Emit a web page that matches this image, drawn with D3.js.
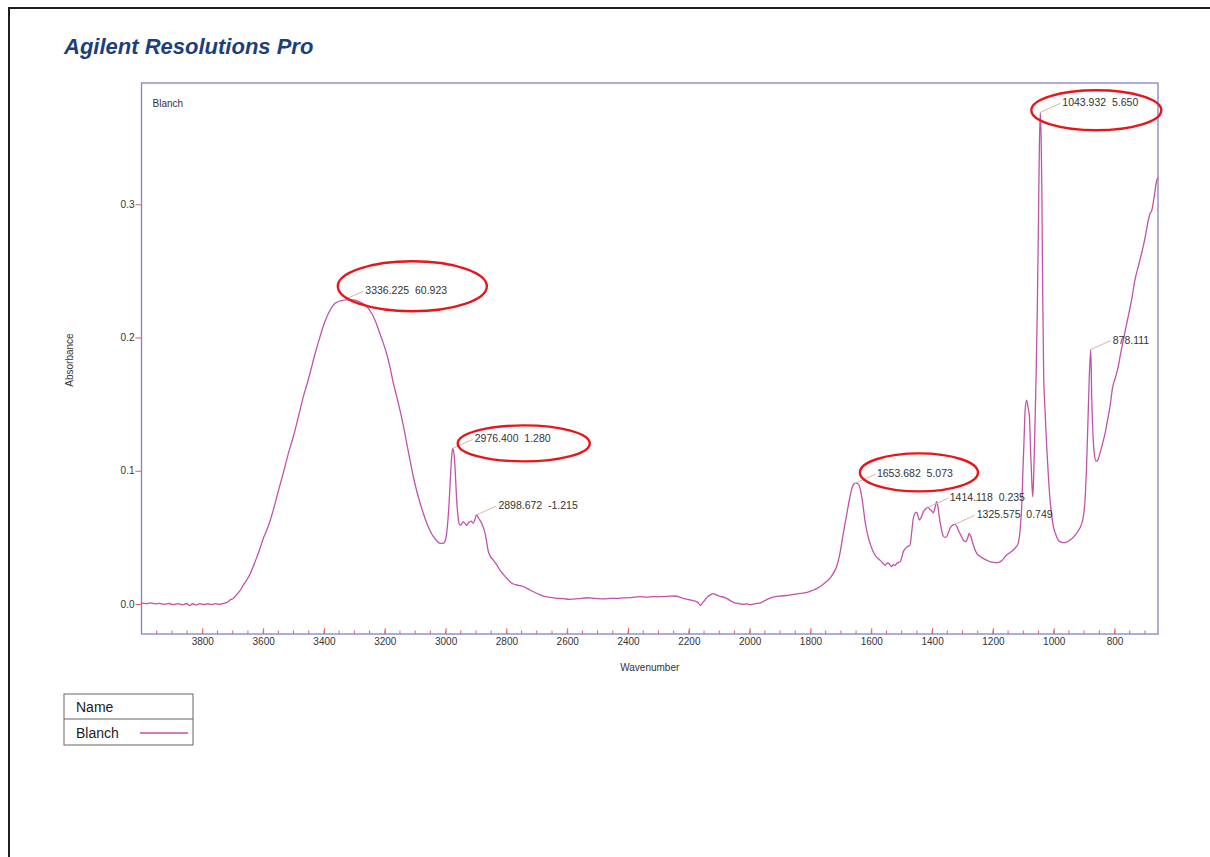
<!DOCTYPE html>
<html>
<head>
<meta charset="utf-8">
<script src="https://cdn.jsdelivr.net/npm/d3@7"></script>
<style>
  html, body { margin: 0; padding: 0; background: #ffffff; }
  svg { display: block; font-family: Arial, "Liberation Sans", sans-serif; }
  .peak-text { white-space: pre; }
</style>
</head>
<body>
<svg id="chart" width="1210" height="857"></svg>
<script>
// ---- Spectrum: wavenumber (cm-1, descending) and absorbance ----
const wavenumbers = [
  4000, 3985, 3970, 3955, 3940, 3925, 3910, 3895, 3880, 3865, 3852, 3842, 3832, 3820, 3808, 3795,
  3782, 3770, 3757, 3745, 3732, 3720, 3709, 3698, 3687, 3676, 3665, 3654, 3643, 3632, 3621, 3610,
  3599, 3588, 3577, 3566, 3555, 3545, 3534, 3517, 3501, 3484, 3468, 3457, 3446, 3429, 3413, 3397,
  3380, 3364, 3350, 3336.225, 3314, 3298, 3281, 3265, 3254, 3243, 3232, 3216, 3205, 3194, 3183, 3172,
  3161, 3150, 3139, 3128, 3117, 3106, 3095, 3084, 3073, 3062, 3051, 3040, 3029, 3018, 3008, 3002,
  2996, 2990, 2984, 2980, 2976.4, 2972, 2968, 2964, 2960, 2955, 2950, 2942, 2936, 2930, 2924, 2916,
  2909, 2904, 2898.672, 2890, 2881, 2870, 2859, 2851, 2843, 2832, 2821, 2810, 2799, 2788, 2777, 2760,
  2744, 2728, 2711, 2695, 2679, 2656, 2634, 2612, 2591, 2564, 2536, 2508, 2481, 2459, 2437, 2415,
  2394, 2377, 2360, 2340, 2320, 2300, 2288, 2268, 2247, 2230, 2216, 2198, 2180, 2170, 2162, 2156,
  2150, 2140, 2128, 2120, 2110, 2098, 2084, 2070, 2058, 2048, 2036, 2020, 2010, 2000, 1988, 1976,
  1964, 1950, 1935, 1916, 1900, 1880, 1856, 1832, 1808, 1790, 1769, 1752, 1736, 1725, 1714, 1703,
  1692, 1681, 1670, 1662, 1653.682, 1647, 1641, 1635, 1631, 1626, 1621, 1612, 1604, 1596, 1588, 1577,
  1566, 1560, 1555, 1549, 1544, 1538, 1533, 1527, 1522, 1516, 1510, 1505, 1500, 1495, 1488, 1482,
  1473, 1467, 1462, 1456, 1451, 1446, 1442, 1436, 1429, 1421, 1414.118, 1407, 1400, 1396, 1390, 1385,
  1380, 1376, 1370, 1365, 1358, 1352, 1346, 1341, 1334, 1325.575, 1318, 1314, 1305, 1297, 1289, 1283,
  1278, 1273, 1266, 1260, 1253, 1243, 1232, 1221, 1210, 1198, 1187, 1179, 1171, 1163, 1155, 1144,
  1133, 1125, 1117, 1112, 1108, 1104, 1102, 1098, 1094, 1089, 1084, 1080, 1076, 1072, 1069, 1066,
  1062, 1058, 1054, 1050, 1047, 1043.932, 1041, 1039, 1036, 1033, 1029, 1023, 1018, 1012, 1006, 1001,
  993, 985, 976, 968, 957, 946, 932, 919, 910, 903, 897, 892, 887, 883, 878.111, 875,
  870, 866, 861, 855, 848, 840, 831, 823, 815, 806, 797, 788, 780, 771, 760, 752,
  744, 733, 720, 706, 697, 689, 683, 678, 670, 661, 657
];
const absorbance = [
  0.0006, 0.0003, 0.0008, 0.0001, 0.0005, -0.0002, 0.0004, -0.0004, 0.0003, -0.0006, 0.0004, -0.0012, 0.0002, -0.0008, 0.0003, -0.0005,
  0.0002, -0.0004, 0.0003, -0.0002, 0.0004, 0.0010, 0.0030, 0.0042, 0.0070, 0.0100, 0.0143, 0.0180, 0.0225, 0.0285, 0.0350, 0.0418,
  0.0495, 0.0555, 0.0625, 0.0710, 0.0805, 0.0890, 0.0980, 0.1130, 0.1255, 0.1405, 0.1555, 0.1640, 0.1730, 0.1880, 0.2005, 0.2118,
  0.2205, 0.2255, 0.2272, 0.2280, 0.2285, 0.2280, 0.2265, 0.2245, 0.2218, 0.2180, 0.2130, 0.2030, 0.1960, 0.1880, 0.1780, 0.1660,
  0.1560, 0.1455, 0.1340, 0.1210, 0.1080, 0.0955, 0.0850, 0.0758, 0.0680, 0.0608, 0.0550, 0.0505, 0.0475, 0.0455, 0.0455, 0.0470,
  0.0540, 0.0700, 0.0950, 0.1105, 0.1168, 0.1120, 0.0990, 0.0800, 0.0680, 0.0600, 0.0592, 0.0617, 0.0605, 0.0590, 0.0612, 0.0622,
  0.0605, 0.0630, 0.0668, 0.0640, 0.0605, 0.0530, 0.0392, 0.0350, 0.0330, 0.0295, 0.0255, 0.0222, 0.0193, 0.0168, 0.0150, 0.0140,
  0.0130, 0.0112, 0.0092, 0.0075, 0.0060, 0.0050, 0.0043, 0.0040, 0.0035, 0.0040, 0.0047, 0.0042, 0.0038, 0.0042, 0.0043, 0.0046,
  0.0048, 0.0052, 0.0055, 0.0052, 0.0056, 0.0054, 0.0056, 0.0058, 0.0060, 0.0052, 0.0040, 0.0032, 0.0022, 0.0012, -0.0010, 0.0005,
  0.0022, 0.0050, 0.0070, 0.0078, 0.0068, 0.0058, 0.0050, 0.0035, 0.0018, 0.0009, 0.0004, -0.0002, 0.0002, -0.0005, -0.0001, 0.0004,
  0.0009, 0.0025, 0.0042, 0.0055, 0.0060, 0.0064, 0.0072, 0.0080, 0.0090, 0.0105, 0.0130, 0.0160, 0.0193, 0.0230, 0.0280, 0.0380,
  0.0530, 0.0670, 0.0805, 0.0880, 0.0905, 0.0905, 0.0895, 0.0850, 0.0800, 0.0720, 0.0630, 0.0520, 0.0455, 0.0405, 0.0368, 0.0340,
  0.0318, 0.0300, 0.0290, 0.0305, 0.0308, 0.0292, 0.0280, 0.0296, 0.0290, 0.0305, 0.0312, 0.0318, 0.0345, 0.0390, 0.0415, 0.0430,
  0.0440, 0.0540, 0.0640, 0.0680, 0.0690, 0.0660, 0.0630, 0.0650, 0.0690, 0.0715, 0.0725, 0.0710, 0.0695, 0.0685, 0.0725, 0.0768,
  0.0720, 0.0650, 0.0570, 0.0520, 0.0500, 0.0505, 0.0540, 0.0568, 0.0590, 0.0598, 0.0580, 0.0555, 0.0515, 0.0480, 0.0468, 0.0495,
  0.0530, 0.0510, 0.0455, 0.0415, 0.0380, 0.0358, 0.0343, 0.0330, 0.0318, 0.0312, 0.0310, 0.0315, 0.0325, 0.0345, 0.0368, 0.0385,
  0.0405, 0.0425, 0.0455, 0.0520, 0.0630, 0.0800, 0.0950, 0.1200, 0.1450, 0.1530, 0.1470, 0.1410, 0.1150, 0.0920, 0.0805, 0.0950,
  0.1300, 0.1700, 0.2200, 0.2900, 0.3450, 0.3690, 0.3450, 0.3100, 0.2300, 0.1720, 0.1480, 0.1180, 0.0980, 0.0780, 0.0660, 0.0580,
  0.0520, 0.0480, 0.0465, 0.0460, 0.0465, 0.0480, 0.0510, 0.0550, 0.0590, 0.0650, 0.0780, 0.1030, 0.1400, 0.1700, 0.1910, 0.1550,
  0.1230, 0.1120, 0.1070, 0.1080, 0.1130, 0.1200, 0.1280, 0.1380, 0.1480, 0.1630, 0.1700, 0.1780, 0.1880, 0.1980, 0.2105, 0.2190,
  0.2280, 0.2430, 0.2550, 0.2680, 0.2780, 0.2880, 0.2930, 0.2950, 0.3050, 0.3180, 0.3200
];

// ---- Peak annotations ----
const peakWavenumbers = [3336.225, 2976.400, 2898.672, 1653.682, 1414.118, 1325.575, 1043.932, 878.111];
const peakLabels = [
  "3336.225  60.923", "2976.400  1.280", "2898.672  -1.215", "1653.682  5.073",
  "1414.118  0.235", "1325.575  0.749", "1043.932  5.650", "878.111"
];
// peaks circled in red
const circledPeaks = [3336.225, 2976.400, 1653.682, 1043.932];

// ---- Axis ticks ----
const xTickValues = [3800, 3600, 3400, 3200, 3000, 2800, 2600, 2400, 2200, 2000, 1800, 1600, 1400, 1200, 1000, 800];
const yTickValues = [0.0, 0.1, 0.2, 0.3];
const seriesName = "Blanch";

// ---- Layout / style ----
const plot = { left: 141.5, right: 1158, top: 83, bottom: 634 };
const colors = {
  line: "#c152aa", frame: "#8282c6", tick: "#e06464", text: "#333333",
  leader: "#d8b6a6", ring: "#e8161a", title: "#1c3f7c"
};
// red ring placement relative to each circled peak's anchor point
const ringLayout = {
  3336.225: { dx: 69, dy: -14, rx: 74.5, ry: 25 },
  2976.4:   { dx: 71, dy: -5,  rx: 66,   ry: 18 },
  1653.682: { dx: 64, dy: -11, rx: 59,   ry: 19 },
  1043.932: { dx: 56, dy: -2,  rx: 65,   ry: 20 }
};

const svg = d3.select("#chart");
const spectrum = wavenumbers.map((w, i) => ({ w, a: absorbance[i] }));

const x = d3.scaleLinear().domain([4000, 657]).range([plot.left, plot.right]);
const y = d3.scaleLinear().domain([-0.0225, 0.391]).range([plot.bottom, plot.top]);

// page border
svg.append("rect")
  .attr("x", 9).attr("y", 8).attr("width", 1230).attr("height", 880)
  .attr("fill", "none").attr("stroke", "#1e1e1e").attr("stroke-width", 2);

// title
svg.append("text")
  .attr("x", 64).attr("y", 54)
  .attr("font-size", 22).attr("font-weight", "bold").attr("font-style", "italic")
  .attr("fill", colors.title)
  .text("Agilent Resolutions Pro");

// plot frame
svg.append("rect")
  .attr("x", plot.left).attr("y", plot.top)
  .attr("width", plot.right - plot.left).attr("height", plot.bottom - plot.top)
  .attr("fill", "none").attr("stroke", colors.frame).attr("stroke-width", 1.3);

// minor x ticks (every 50 cm-1), pointing into the plot
svg.append("g").selectAll("line")
  .data(d3.range(4000, 657, -50))
  .join("line")
  .attr("x1", d => x(d)).attr("x2", d => x(d))
  .attr("y1", plot.bottom).attr("y2", plot.bottom - 3.5)
  .attr("stroke", colors.tick).attr("stroke-width", 1);

// major x axis
const xAxis = svg.append("g")
  .attr("transform", `translate(0,${plot.bottom})`)
  .call(d3.axisBottom(x).tickValues(xTickValues).tickFormat(d3.format("d"))
    .tickSizeInner(-6).tickSizeOuter(0).tickPadding(4));
xAxis.select(".domain").remove();
xAxis.selectAll(".tick line").attr("stroke", colors.tick);
xAxis.selectAll(".tick text").attr("fill", colors.text).attr("font-size", 10)
  .attr("font-family", "Arial, 'Liberation Sans', sans-serif");

// y axis
const yAxis = svg.append("g")
  .attr("transform", `translate(${plot.left},0)`)
  .call(d3.axisLeft(y).tickValues(yTickValues).tickFormat(d3.format(".1f"))
    .tickSizeInner(6).tickSizeOuter(0).tickPadding(1));
yAxis.select(".domain").remove();
yAxis.selectAll(".tick line").attr("stroke", colors.tick);
yAxis.selectAll(".tick text").attr("fill", colors.text).attr("font-size", 10)
  .attr("font-family", "Arial, 'Liberation Sans', sans-serif");

// axis titles
svg.append("text")
  .attr("x", (plot.left + plot.right) / 2).attr("y", 671)
  .attr("text-anchor", "middle").attr("font-size", 10).attr("fill", colors.text)
  .text("Wavenumber");
svg.append("text")
  .attr("transform", `translate(73,360) rotate(-90)`)
  .attr("text-anchor", "middle").attr("font-size", 10).attr("fill", colors.text)
  .text("Absorbance");

// series name inside plot
svg.append("text")
  .attr("x", plot.left + 11).attr("y", 107)
  .attr("font-size", 10).attr("fill", colors.text)
  .text(seriesName);

// spectrum line
const line = d3.line()
  .x(d => x(d.w)).y(d => y(d.a))
  .curve(d3.curveMonotoneX);
svg.append("path")
  .datum(spectrum)
  .attr("d", line)
  .attr("fill", "none")
  .attr("stroke", colors.line)
  .attr("stroke-width", 1.3)
  .attr("stroke-linejoin", "round");

// absorbance at a given wavenumber
const byWave = d3.bisector(d => -d.w).left;
function valueAt(w) {
  const i = byWave(spectrum, -w);
  if (i <= 0) return spectrum[0].a;
  if (i >= spectrum.length) return spectrum[spectrum.length - 1].a;
  const p = spectrum[i - 1], q = spectrum[i];
  const t = (p.w - w) / (p.w - q.w);
  return p.a + t * (q.a - p.a);
}

// peak labels with leader lines
const peaks = peakWavenumbers.map((w, i) => ({
  w, label: peakLabels[i], px: x(w), py: y(valueAt(w))
}));
const peakG = svg.append("g");
peakG.selectAll("line")
  .data(peaks)
  .join("line")
  .attr("x1", d => d.px).attr("y1", d => d.py)
  .attr("x2", d => d.px + 20).attr("y2", d => d.py - 9)
  .attr("stroke", colors.leader).attr("stroke-width", 1);
peakG.selectAll("text")
  .data(peaks)
  .join("text")
  .attr("class", "peak-text")
  .attr("x", d => d.px + 22).attr("y", d => d.py - 6)
  .attr("font-size", 10.5).attr("fill", colors.text)
  .text(d => d.label);

// red rings around highlighted peak labels
svg.append("g").selectAll("ellipse")
  .data(peaks.filter(p => circledPeaks.includes(p.w)))
  .join("ellipse")
  .attr("cx", d => d.px + ringLayout[d.w].dx)
  .attr("cy", d => d.py + ringLayout[d.w].dy)
  .attr("rx", d => ringLayout[d.w].rx)
  .attr("ry", d => ringLayout[d.w].ry)
  .attr("fill", "none").attr("stroke", colors.ring).attr("stroke-width", 2.4);

// legend table
const legend = svg.append("g").attr("transform", "translate(64,694)");
legend.append("rect")
  .attr("width", 129).attr("height", 51)
  .attr("fill", "#ffffff").attr("stroke", "#666666").attr("stroke-width", 1);
legend.append("line")
  .attr("x1", 0).attr("x2", 129).attr("y1", 25).attr("y2", 25)
  .attr("stroke", "#666666").attr("stroke-width", 1);
legend.append("text")
  .attr("x", 12).attr("y", 18).attr("font-size", 14).attr("fill", "#222")
  .text("Name");
legend.append("text")
  .attr("x", 12).attr("y", 44).attr("font-size", 14).attr("fill", "#222")
  .text(seriesName);
legend.append("line")
  .attr("x1", 76).attr("x2", 124).attr("y1", 39).attr("y2", 39)
  .attr("stroke", colors.line).attr("stroke-width", 1.3);
</script>
</body>
</html>
